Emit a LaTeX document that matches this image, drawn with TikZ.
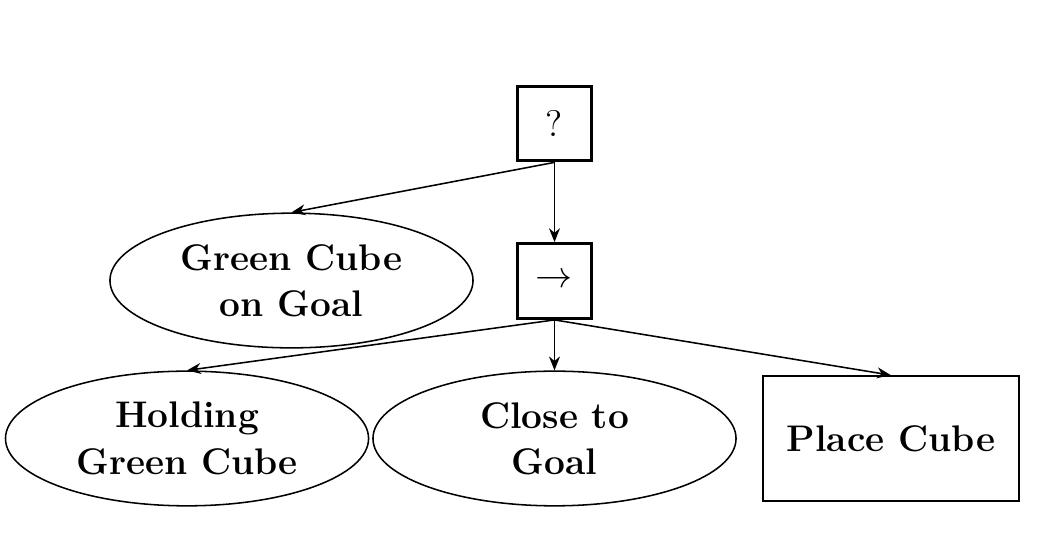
\documentclass[tikz,border=0pt]{standalone}
\usetikzlibrary{shapes.geometric,arrows.meta}
\begin{document}
\begin{tikzpicture}[
  ctrl/.style={draw,very thick,minimum size=1.02cm,inner sep=0pt,font=\Large},
  cond/.style={draw,semithick,ellipse,minimum width=4.96cm,minimum height=1.84cm,inner sep=0pt,align=center,font=\Large\bfseries},
  act/.style={draw,semithick,minimum width=3.5cm,minimum height=1.71cm,align=center,font=\Large\bfseries},
  link/.style={semithick,-{Stealth[length=1.9mm,width=1.5mm]}}
]
\useasboundingbox (0,0) rectangle (14.385,-7.555);

\node[ctrl] (fallback) at (7.575,-1.687) {?};
\node[ctrl] (seq) at (7.575,-3.839) {$\rightarrow$};

\node[cond] (ongoal) at (3.982,-3.832) {Green Cube\\on Goal};
\node[cond] (holding) at (2.555,-5.99) {Holding\\Green Cube};
\node[cond] (close) at (7.575,-5.99) {Close to\\Goal};
\node[act] (place) at (12.17,-5.99) {Place Cube};

\draw[link] (fallback.south) -- (ongoal.north);
\draw[link] (fallback.south) -- (seq.north);
\draw[link] (seq.south) -- (holding.north);
\draw[link] (seq.south) -- (close.north);
\draw[link] (seq.south) -- (place.north);

\end{tikzpicture}
\end{document}
